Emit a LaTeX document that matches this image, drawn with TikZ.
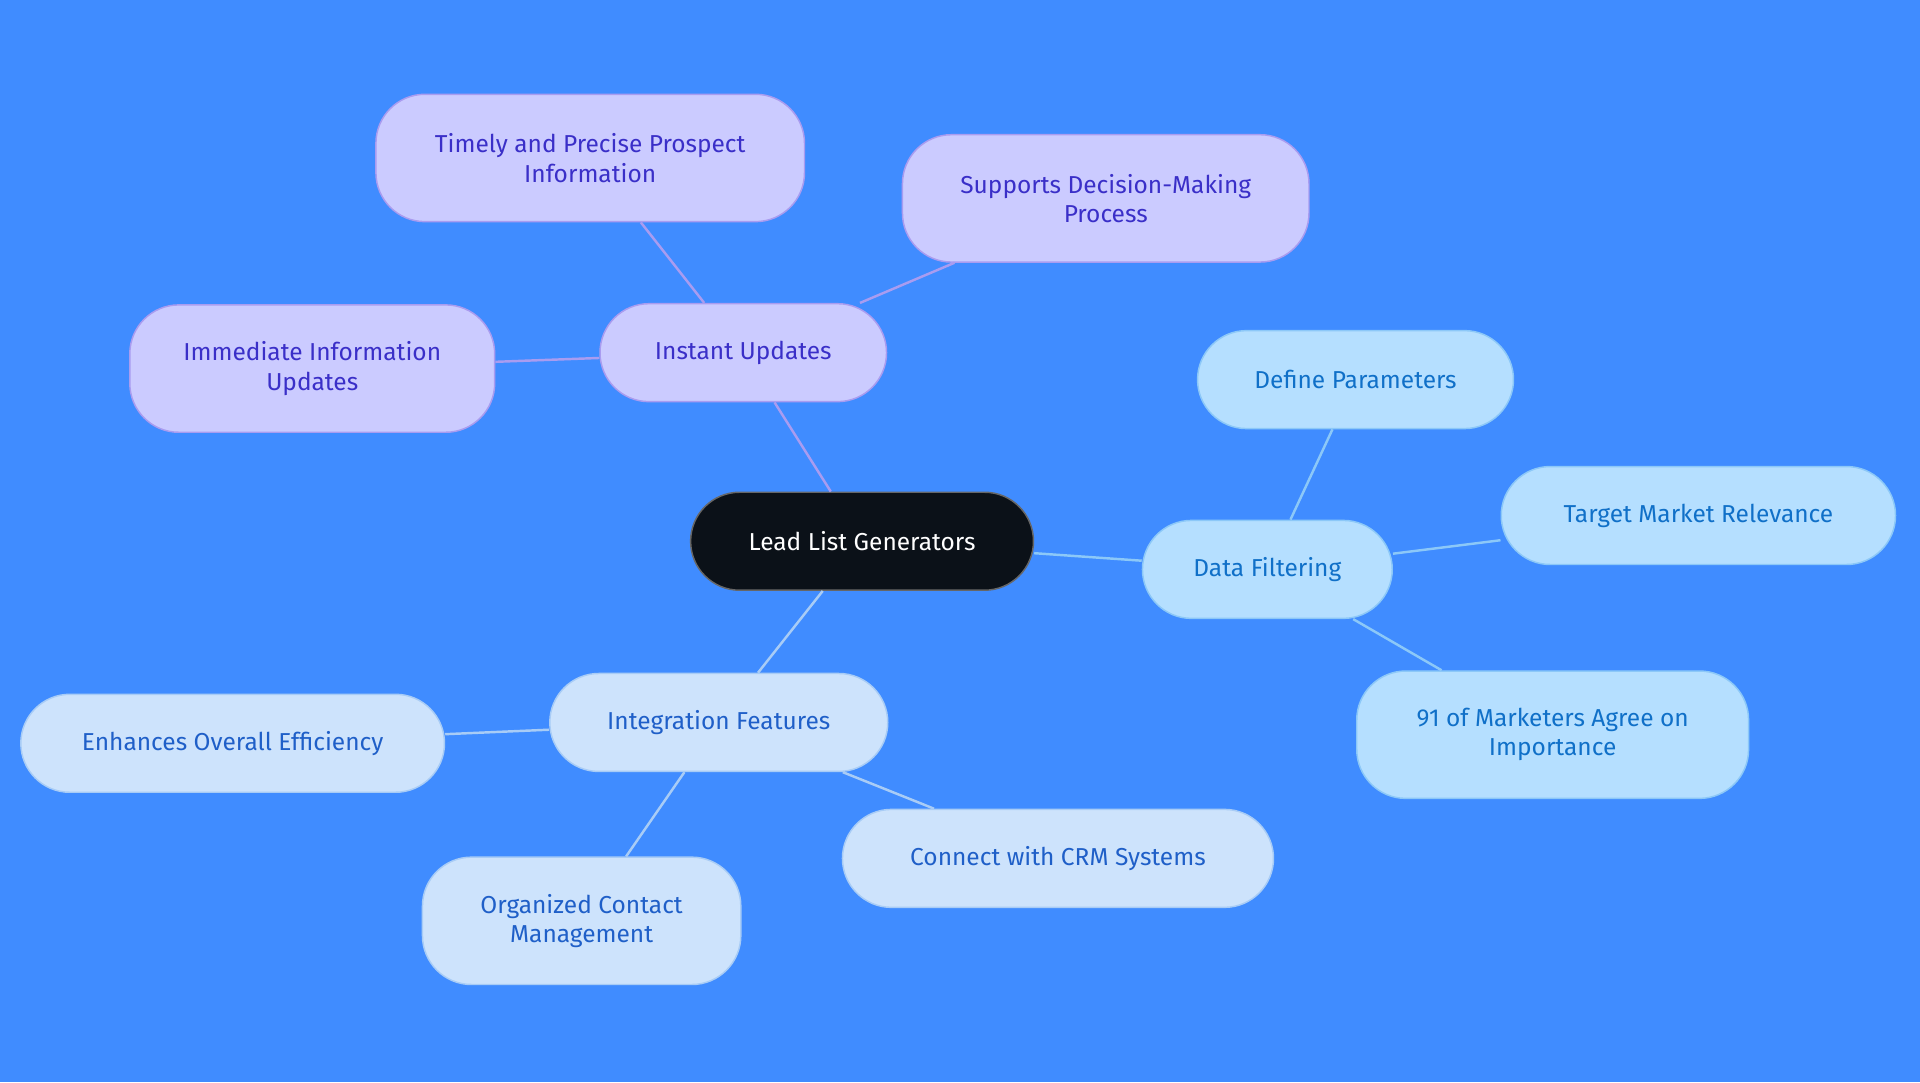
\documentclass[tikz,border=0pt]{standalone}
\usepackage{fontspec}
\setmainfont{Fira Sans}
\definecolor{bg}{HTML}{408CFF}
\definecolor{rootfill}{HTML}{0B1118}
\definecolor{purfill}{HTML}{CBCBFF}
\definecolor{purline}{HTML}{A99CF0}
\definecolor{purtext}{HTML}{3A2FC8}
\definecolor{skyfill}{HTML}{B5DFFF}
\definecolor{skyline}{HTML}{8CC8F8}
\definecolor{skytext}{HTML}{1070C8}
\definecolor{palefill}{HTML}{CDE3FC}
\definecolor{paleline}{HTML}{A8CCF6}
\definecolor{paletext}{HTML}{1F5FC8}
\tikzstyle{idea} = [rectangle, rounded corners=40pt, minimum height=80pt,
    align=center, font=\fontsize{20}{24}\selectfont, line width=1.2pt]
\tikzstyle{root} = [idea, fill=rootfill, draw=black!60, text=white]
\tikzstyle{upd} = [idea, fill=purfill, draw=purline, text=purtext]
\tikzstyle{flt} = [idea, fill=skyfill, draw=skyline, text=skytext]
\tikzstyle{itg} = [idea, fill=palefill, draw=paleline, text=paletext]
\tikzstyle{tall} = [minimum height=104pt]

\begin{document}
\begin{tikzpicture}[x=1pt,y=-1pt,line width=2pt]
    \fill [bg] (0,0) rectangle (1568,884);
    \node [root, minimum width=280pt] (lead) at (704,442) {Lead List Generators};
    % instant updates branch
    \node [upd, minimum width=234pt] (instant) at (607,288) {Instant Updates};
    \node [upd, tall, minimum width=350pt] (timely) at (482,129) {Timely and Precise Prospect\\Information};
    \node [upd, tall, minimum width=332pt] (supports) at (903,162) {Supports Decision-Making\\Process};
    \node [upd, tall, minimum width=298pt] (immediate) at (255,301) {Immediate Information\\Updates};
    % data filtering branch
    \node [flt, minimum width=204pt] (filter) at (1035,465) {Data Filtering};
    \node [flt, minimum width=258pt] (define) at (1107,310) {Define Parameters};
    \node [flt, minimum width=322pt] (target) at (1387,421) {Target Market Relevance};
    \node [flt, tall, minimum width=320pt] (agree) at (1268,600) {91 of Marketers Agree on\\Importance};
    % integration branch
    \node [itg, minimum width=276pt] (integr) at (587,590) {Integration Features};
    \node [itg, minimum width=346pt] (enhance) at (190,607) {Enhances Overall Efficiency};
    \node [itg, tall, minimum width=260pt] (organized) at (475,752) {Organized Contact\\Management};
    \node [itg, minimum width=352pt] (crm) at (864,701) {Connect with CRM Systems};
    \draw [purline] (lead) -- (instant);
    \draw [purline] (instant) -- (timely);
    \draw [purline] (instant) -- (supports);
    \draw [purline] (instant) -- (immediate);
    \draw [skyline] (lead) -- (filter);
    \draw [skyline] (filter) -- (define);
    \draw [skyline] (filter) -- (target);
    \draw [skyline] (filter) -- (agree);
    \draw [paleline] (lead) -- (integr);
    \draw [paleline] (integr) -- (enhance);
    \draw [paleline] (integr) -- (organized);
    \draw [paleline] (integr) -- (crm);
\end{tikzpicture}
\end{document}
